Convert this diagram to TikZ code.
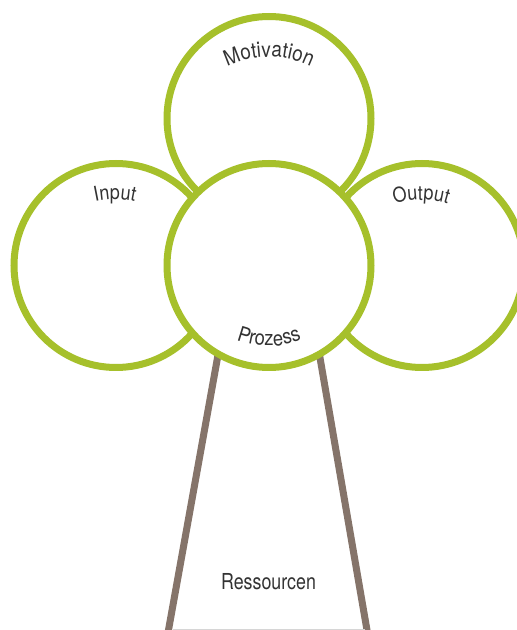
\documentclass[tikz,border=0pt]{standalone}
\usepackage{fontspec}
\setmainfont{TeX Gyre Heros}
\newfontfamily\condfont{TeX Gyre Heros}[FakeStretch=0.81]
\newfontfamily\arcfont{TeX Gyre Heros}[FakeStretch=0.88, LetterSpace=6]
\usetikzlibrary{decorations.text}
\definecolor{leaf}{HTML}{A6C02B}
\definecolor{trunk}{HTML}{85746A}
\definecolor{txt}{HTML}{333333}
\definecolor{base}{HTML}{D6D6D6}
\tikzset{
  ring/.style={circle, draw=leaf, fill=white, line width=7pt, minimum size=204pt, inner sep=0pt},
  stem/.style={draw=trunk, line width=7pt},
  arclabel/.style={decorate, decoration={text along path, text align=center, text color=txt}},
}
\begin{document}
\begin{tikzpicture}[x=1pt,y=1pt]
\useasboundingbox (0,0) rectangle (517,630);
% trunk
\coordinate (tlt) at (222.5,300);
\coordinate (tlb) at (166.7,-10);
\coordinate (trt) at (315.2,300);
\coordinate (trb) at (368.7,-10);
\draw[stem] (tlt) -- (tlb);
\draw[stem] (trt) -- (trb);
\coordinate (gl) at (173,0.7);
\coordinate (gr) at (365,0.7);
\draw[base, line width=1pt] (gl) -- (gr);
% circles
\node[ring] (mot) at (269,511.5) {};
\node[ring] (inp) at (116,364.5) {};
\node[ring] (out) at (422,364.5) {};
\node[ring] (proz) at (269,364.5) {};
% labels
\path[arclabel, decoration={text={|\arcfont\fontsize{21.5}{25}\selectfont|Motivation}}]
  (269,478) ++(140:95) arc[start angle=140, end angle=40, radius=95];
\path[arclabel, decoration={text={|\arcfont\fontsize{20.5}{24}\selectfont|Input}}]
  (115,341) ++(130:90) arc[start angle=130, end angle=50, radius=90];
\path[arclabel, decoration={text={|\arcfont\fontsize{20.5}{24}\selectfont|Output}}]
  (421,340) ++(130:90) arc[start angle=130, end angle=50, radius=90];
\path[arclabel, decoration={text={|\arcfont\fontsize{21}{24}\selectfont|Prozess}}]
  (269,374) ++(225:90) arc[start angle=225, end angle=315, radius=90];
\node[text=txt, font=\condfont\fontsize{22}{26}\selectfont, inner sep=0pt] (res) at (268.5,48) {Ressourcen};
\end{tikzpicture}
\end{document}
